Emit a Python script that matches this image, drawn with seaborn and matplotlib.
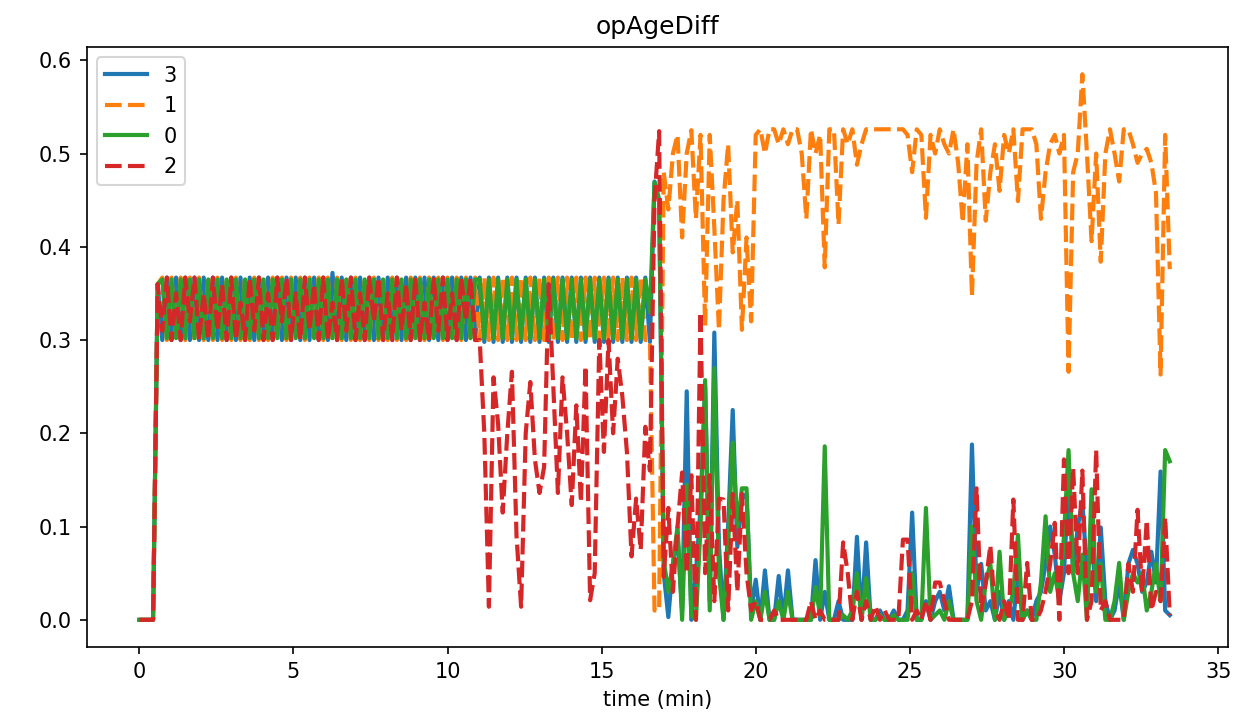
import numpy as np
import pandas as pd
import matplotlib
matplotlib.use("Agg")
import matplotlib.pyplot as plt
import seaborn as sns

# sample times (min), one sample every ~9 s
time_min = np.arange(225) * 0.1492

series_order = ["3", "1", "0", "2"]

# values, 225 samples per series
diff_3 = [
    0.0, 0.0, 0.0, 0.0, 0.36, 0.30, 0.367, 0.30, 0.367, 0.30,
    0.367, 0.30, 0.367, 0.30, 0.367, 0.30, 0.367, 0.30, 0.367, 0.30,
    0.367, 0.30, 0.367, 0.30, 0.367, 0.30, 0.367, 0.30, 0.367, 0.30,
    0.367, 0.30, 0.367, 0.30, 0.367, 0.30, 0.367, 0.30, 0.367, 0.30,
    0.367, 0.30, 0.372, 0.30, 0.367, 0.30, 0.367, 0.30, 0.367, 0.30,
    0.367, 0.30, 0.367, 0.30, 0.367, 0.30, 0.367, 0.30, 0.367, 0.30,
    0.367, 0.30, 0.367, 0.30, 0.367, 0.30, 0.367, 0.30, 0.367, 0.30,
    0.367, 0.30, 0.367, 0.30, 0.367, 0.298, 0.367, 0.298, 0.367, 0.298,
    0.367, 0.298, 0.367, 0.298, 0.367, 0.298, 0.367, 0.298, 0.367, 0.298,
    0.367, 0.298, 0.367, 0.298, 0.367, 0.298, 0.367, 0.298, 0.367, 0.298,
    0.367, 0.298, 0.367, 0.298, 0.367, 0.298, 0.367, 0.298, 0.367, 0.298,
    0.367, 0.298, 0.47, 0.45, 0.05, 0.003, 0.06, 0.09, 0.01, 0.245,
    0.0, 0.05, 0.12, 0.25, 0.02, 0.308, 0.08, 0.0, 0.10, 0.225,
    0.078, 0.13, 0.135, 0.01, 0.043, 0.0, 0.053, 0.0, 0.0, 0.047,
    0.0, 0.053, 0.0, 0.0, 0.0, 0.0, 0.0, 0.064, 0.0, 0.03,
    0.0, 0.0, 0.02, 0.0, 0.0, 0.0, 0.089, 0.0, 0.083, 0.0,
    0.0, 0.01, 0.0, 0.0, 0.01, 0.0, 0.0, 0.01, 0.115, 0.0,
    0.0, 0.02, 0.0, 0.02, 0.03, 0.01, 0.036, 0.0, 0.0, 0.0,
    0.0, 0.188, 0.03, 0.06, 0.01, 0.02, 0.0, 0.03, 0.0, 0.02,
    0.0, 0.05, 0.0, 0.01, 0.0, 0.02, 0.03, 0.06, 0.10, 0.07,
    0.02, 0.05, 0.15, 0.05, 0.10, 0.127, 0.05, 0.09, 0.02, 0.099,
    0.02, 0.0, 0.01, 0.04, 0.0, 0.06, 0.075, 0.06, 0.03, 0.04,
    0.073, 0.04, 0.159, 0.01, 0.005,
]

diff_1 = [
    0.0, 0.0, 0.0, 0.0, 0.36, 0.367, 0.30, 0.367, 0.30, 0.367,
    0.30, 0.367, 0.30, 0.367, 0.30, 0.367, 0.30, 0.367, 0.30, 0.367,
    0.30, 0.367, 0.30, 0.367, 0.30, 0.367, 0.30, 0.367, 0.30, 0.367,
    0.30, 0.367, 0.30, 0.367, 0.30, 0.367, 0.30, 0.367, 0.30, 0.367,
    0.30, 0.367, 0.30, 0.367, 0.30, 0.367, 0.30, 0.367, 0.30, 0.367,
    0.30, 0.367, 0.30, 0.367, 0.30, 0.367, 0.30, 0.367, 0.30, 0.367,
    0.30, 0.367, 0.30, 0.367, 0.30, 0.367, 0.30, 0.367, 0.30, 0.367,
    0.30, 0.367, 0.30, 0.367, 0.30, 0.367, 0.30, 0.367, 0.30, 0.367,
    0.30, 0.367, 0.30, 0.367, 0.30, 0.367, 0.30, 0.367, 0.30, 0.367,
    0.30, 0.367, 0.30, 0.367, 0.30, 0.367, 0.30, 0.367, 0.30, 0.367,
    0.30, 0.367, 0.30, 0.367, 0.30, 0.367, 0.30, 0.367, 0.30, 0.367,
    0.30, 0.30, 0.01, 0.01, 0.48, 0.44, 0.50, 0.52, 0.41, 0.50,
    0.525, 0.43, 0.52, 0.315, 0.52, 0.42, 0.311, 0.45, 0.51, 0.394,
    0.45, 0.311, 0.41, 0.32, 0.52, 0.526, 0.50, 0.526, 0.526, 0.51,
    0.526, 0.51, 0.526, 0.526, 0.50, 0.43, 0.526, 0.50, 0.52, 0.378,
    0.526, 0.526, 0.424, 0.526, 0.51, 0.526, 0.488, 0.51, 0.526, 0.526,
    0.526, 0.526, 0.526, 0.526, 0.526, 0.526, 0.526, 0.52, 0.48, 0.526,
    0.52, 0.431, 0.52, 0.50, 0.526, 0.51, 0.50, 0.526, 0.49, 0.426,
    0.51, 0.347, 0.49, 0.526, 0.428, 0.48, 0.51, 0.46, 0.52, 0.50,
    0.526, 0.449, 0.526, 0.526, 0.526, 0.51, 0.43, 0.48, 0.51, 0.52,
    0.50, 0.52, 0.266, 0.48, 0.50, 0.585, 0.50, 0.406, 0.50, 0.384,
    0.50, 0.526, 0.50, 0.47, 0.526, 0.526, 0.51, 0.49, 0.50, 0.505,
    0.49, 0.458, 0.263, 0.52, 0.376,
]

diff_0 = [
    0.0, 0.0, 0.0, 0.0, 0.36, 0.365, 0.302, 0.365, 0.302, 0.365,
    0.302, 0.365, 0.302, 0.365, 0.302, 0.365, 0.302, 0.365, 0.302, 0.365,
    0.302, 0.365, 0.302, 0.365, 0.302, 0.365, 0.302, 0.365, 0.302, 0.365,
    0.302, 0.365, 0.302, 0.365, 0.302, 0.365, 0.302, 0.365, 0.302, 0.365,
    0.302, 0.365, 0.302, 0.365, 0.302, 0.365, 0.302, 0.365, 0.302, 0.365,
    0.302, 0.365, 0.302, 0.365, 0.302, 0.365, 0.302, 0.365, 0.302, 0.365,
    0.302, 0.365, 0.302, 0.365, 0.302, 0.365, 0.302, 0.365, 0.302, 0.365,
    0.302, 0.365, 0.302, 0.365, 0.365, 0.302, 0.365, 0.302, 0.365, 0.302,
    0.365, 0.302, 0.365, 0.302, 0.365, 0.302, 0.365, 0.302, 0.365, 0.302,
    0.365, 0.302, 0.365, 0.302, 0.365, 0.302, 0.365, 0.302, 0.365, 0.302,
    0.365, 0.302, 0.365, 0.302, 0.365, 0.302, 0.365, 0.302, 0.365, 0.302,
    0.365, 0.33, 0.469, 0.45, 0.064, 0.03, 0.06, 0.10, 0.0, 0.145,
    0.005, 0.0, 0.10, 0.257, 0.01, 0.27, 0.05, 0.0, 0.08, 0.19,
    0.10, 0.141, 0.141, 0.0, 0.02, 0.0, 0.03, 0.0, 0.0, 0.02,
    0.0, 0.03, 0.0, 0.0, 0.0, 0.0, 0.0, 0.035, 0.005, 0.186,
    0.0, 0.0, 0.0, 0.005, 0.0, 0.01, 0.05, 0.0, 0.045, 0.0,
    0.0, 0.005, 0.0, 0.0, 0.005, 0.0, 0.0, 0.0, 0.05, 0.0,
    0.0, 0.12, 0.0, 0.005, 0.01, 0.0, 0.02, 0.0, 0.0, 0.0,
    0.0, 0.10, 0.02, 0.0, 0.04, 0.06, 0.0, 0.073, 0.0, 0.01,
    0.03, 0.091, 0.0, 0.01, 0.0, 0.0, 0.04, 0.111, 0.03, 0.05,
    0.02, 0.09, 0.182, 0.05, 0.02, 0.07, 0.0, 0.14, 0.03, 0.06,
    0.0, 0.0, 0.02, 0.061, 0.0, 0.03, 0.05, 0.04, 0.05, 0.01,
    0.03, 0.06, 0.02, 0.182, 0.17,
]

diff_2 = [
    0.0, 0.0, 0.0, 0.0, 0.36, 0.31, 0.367, 0.30, 0.35, 0.30,
    0.367, 0.32, 0.367, 0.30, 0.35, 0.30, 0.367, 0.31, 0.36, 0.30,
    0.367, 0.30, 0.34, 0.30, 0.367, 0.31, 0.367, 0.30, 0.35, 0.30,
    0.367, 0.32, 0.367, 0.30, 0.35, 0.30, 0.367, 0.31, 0.36, 0.30,
    0.367, 0.30, 0.34, 0.30, 0.367, 0.31, 0.367, 0.30, 0.35, 0.30,
    0.367, 0.32, 0.367, 0.30, 0.35, 0.30, 0.367, 0.31, 0.36, 0.30,
    0.367, 0.30, 0.34, 0.30, 0.367, 0.31, 0.367, 0.30, 0.35, 0.30,
    0.367, 0.32, 0.367, 0.30, 0.30, 0.20, 0.014, 0.26, 0.21, 0.115,
    0.20, 0.266, 0.09, 0.014, 0.20, 0.255, 0.172, 0.136, 0.164, 0.36,
    0.25, 0.136, 0.26, 0.20, 0.123, 0.23, 0.126, 0.272, 0.021, 0.05,
    0.30, 0.18, 0.30, 0.20, 0.28, 0.24, 0.18, 0.068, 0.13, 0.075,
    0.207, 0.16, 0.45, 0.524, 0.046, 0.12, 0.03, 0.10, 0.158, 0.05,
    0.155, 0.0, 0.33, 0.05, 0.155, 0.02, 0.13, 0.129, 0.01, 0.135,
    0.03, 0.135, 0.05, 0.01, 0.02, 0.0, 0.0, 0.0, 0.01, 0.0,
    0.0, 0.0, 0.0, 0.0, 0.0, 0.0, 0.02, 0.0, 0.01, 0.0,
    0.0, 0.0, 0.0, 0.083, 0.05, 0.0, 0.03, 0.0, 0.02, 0.0,
    0.015, 0.0, 0.01, 0.0, 0.0, 0.0, 0.086, 0.086, 0.0, 0.01,
    0.0, 0.02, 0.0, 0.04, 0.04, 0.02, 0.0, 0.0, 0.0, 0.0,
    0.0, 0.02, 0.141, 0.01, 0.04, 0.08, 0.01, 0.0, 0.02, 0.0,
    0.129, 0.0, 0.0, 0.061, 0.0, 0.0, 0.01, 0.03, 0.06, 0.104,
    0.0, 0.172, 0.05, 0.163, 0.05, 0.16, 0.0, 0.02, 0.182, 0.01,
    0.02, 0.0, 0.0, 0.0, 0.0, 0.06, 0.03, 0.118, 0.03, 0.107,
    0.01, 0.03, 0.02, 0.11, 0.005,
]

palette = {"3": "#1f77b4", "1": "#ff7f0e", "0": "#2ca02c", "2": "#d62728"}
dashes = {"3": "", "1": (4, 1.5), "0": "", "2": (4, 1.5)}

frames = []
for name, vals in zip(series_order, [diff_3, diff_1, diff_0, diff_2]):
    assert len(vals) == len(time_min), (name, len(vals))
    frames.append(pd.DataFrame({"time (min)": time_min, "opAgeDiff": vals, "node": name}))
df = pd.concat(frames, ignore_index=True)

fig = plt.figure(figsize=(1249 / 150, 723 / 150), dpi=150)
ax = fig.add_axes([0.0693, 0.105, 0.9139, 0.830])
sns.lineplot(data=df, x="time (min)", y="opAgeDiff", hue="node", style="node",
             hue_order=series_order, style_order=series_order,
             palette=palette, dashes=dashes, linewidth=2, errorbar=None, ax=ax)
ax.set_xlim(-1.71, 35.31)
ax.set_title("opAgeDiff")
ax.set_ylabel("")
sns.move_legend(ax, "upper left", title=None)

fig.savefig("out.png", dpi=150)
